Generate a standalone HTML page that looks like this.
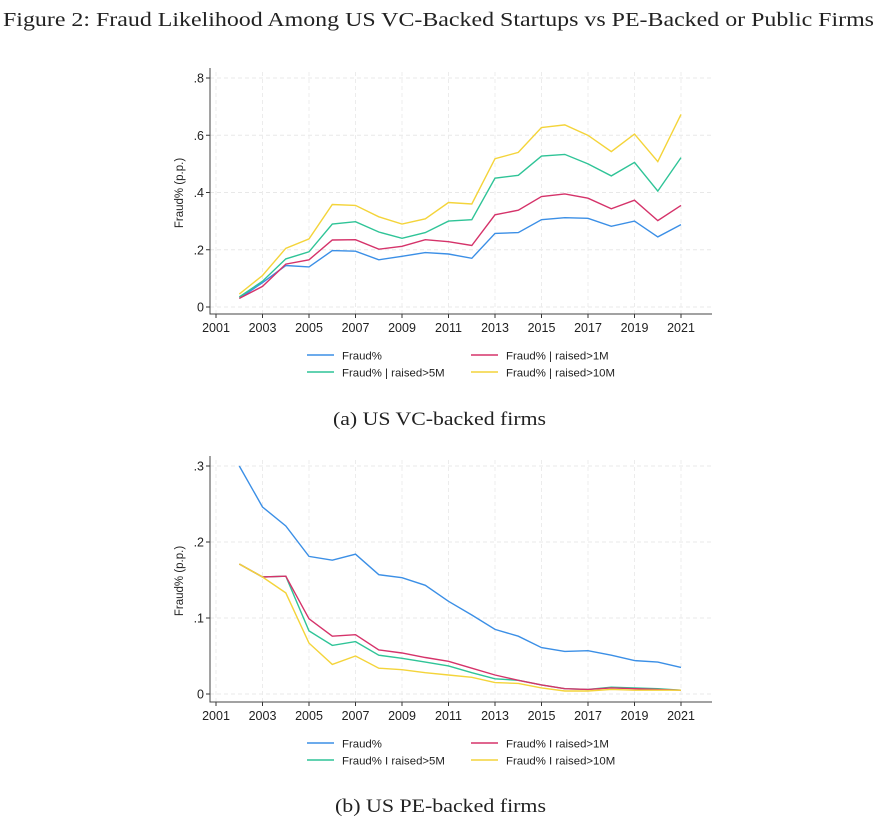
<!DOCTYPE html>
<html><head><meta charset="utf-8">
<style>
body{margin:0;background:#fff;width:893px;height:823px;overflow:hidden}
svg text{font-family:"Liberation Sans",sans-serif}
</style></head>
<body>
<svg id="s" width="893" height="823" xmlns="http://www.w3.org/2000/svg">
<text x="3" y="26" font-size="20" fill="#222" textLength="871" lengthAdjust="spacingAndGlyphs" style="font-family:'Liberation Serif',serif">Figure 2: Fraud Likelihood Among US VC-Backed Startups vs PE-Backed or Public Firms</text>
<text x="333" y="425" font-size="19" fill="#222" textLength="213" lengthAdjust="spacingAndGlyphs" style="font-family:'Liberation Serif',serif">(a) US VC-backed firms</text>
<text x="335" y="812" font-size="19" fill="#222" textLength="211" lengthAdjust="spacingAndGlyphs" style="font-family:'Liberation Serif',serif">(b) US PE-backed firms</text>
</svg>
<script>
const years=[2002,2003,2004,2005,2006,2007,2008,2009,2010,2011,2012,2013,2014,2015,2016,2017,2018,2019,2020,2021];
const xTicks=[2001,2003,2005,2007,2009,2011,2013,2015,2017,2019,2021];
const seriesNames=["Fraud%","Fraud% | raised>1M","Fraud% | raised>5M","Fraud% | raised>10M"];
const vcFraud=[.03,.085,.145,.14,.197,.195,.165,.177,.19,.185,.17,.257,.26,.305,.312,.31,.282,.3,.245,.288];
const vc1M=[.03,.072,.15,.165,.234,.235,.202,.212,.235,.228,.215,.322,.338,.386,.395,.38,.343,.373,.302,.355];
const vc5M=[.035,.09,.168,.193,.29,.298,.262,.24,.26,.3,.305,.45,.46,.527,.533,.5,.458,.505,.405,.522];
const vc10M=[.045,.11,.205,.238,.358,.355,.315,.29,.308,.365,.36,.518,.54,.627,.636,.6,.543,.604,.508,.673];
const vcTicks=[0,.2,.4,.6,.8];
const vcTickLabels=["0",".2",".4",".6",".8"];
const peFraud=[.3,.246,.221,.181,.176,.184,.157,.153,.143,.122,.104,.085,.076,.061,.056,.057,.051,.044,.042,.035];
const pe1M=[.171,.154,.155,.099,.076,.078,.058,.054,.048,.043,.034,.025,.018,.012,.007,.006,.008,.007,.006,.005];
const pe5M=[.171,.154,.155,.083,.064,.069,.051,.047,.042,.037,.028,.02,.018,.012,.007,.006,.009,.008,.007,.005];
const pe10M=[.171,.154,.133,.067,.039,.05,.034,.032,.028,.025,.022,.015,.014,.008,.004,.004,.006,.005,.005,.005];
const peTicks=[0,.1,.2,.3];
const peTickLabels=["0",".1",".2",".3"];
const colors=["#3b8fe6","#d5336a","#2fc497","#f4d43a"];
const NS="http://www.w3.org/2000/svg";
const svg=document.getElementById('s');
function mk(t,a,p){const e=document.createElementNS(NS,t);for(const k in a)e.setAttribute(k,a[k]);(p||svg).appendChild(e);return e;}
function chart(cfg){
  const g=mk('g',{});
  
  
  const x=v=>216+(v-2001)*23.25;
  const y=v=>cfg.y0-(v/cfg.unit)*cfg.pxPerUnit;
  const left=210,right=712;
  cfg.ticks.forEach((t,i)=>{
    const gl=mk('line',{x1:left,x2:right,y1:y(t),y2:y(t),stroke:'#e8e8e8','stroke-dasharray':'4,3','stroke-width':1},g);
    
    
    mk('line',{x1:left-4,x2:left,y1:y(t),y2:y(t),stroke:'#333'},g);
    const tl=mk('text',{x:left-6,y:y(t)+4.5,'text-anchor':'end','font-size':12.5,fill:'#222'},g);
    tl.textContent=cfg.tickLabels[i];
    
    
  });
  xTicks.forEach(t=>{
    const gl=mk('line',{x1:x(t),x2:x(t),y1:cfg.top,y2:cfg.axisY,stroke:'#ececec','stroke-dasharray':'4,3'},g);
    
    
    mk('line',{x1:x(t),x2:x(t),y1:cfg.axisY,y2:cfg.axisY+4,stroke:'#333'},g);
    const tl=mk('text',{x:x(t),y:cfg.axisY+18,'text-anchor':'middle','font-size':12.5,fill:'#222'},g);
    tl.textContent=t;
    
    
  });
  const ax=mk('path',{d:`M${left},${cfg.top-4}V${cfg.axisY}H${right}`,fill:'none',stroke:'#444','stroke-width':1},g);
  
  
  const yt=mk('text',{transform:`translate(183,${(cfg.top+cfg.axisY)/2}) rotate(-90)`,'text-anchor':'middle','font-size':11.5,fill:'#222'},g);
  yt.textContent='Fraud% (p.p.)';
  
  
  const order=[0,2,1,3];
  order.forEach(i=>{
    const d=cfg.series[i].map((v,j)=>(j?'L':'M')+x(years[j]).toFixed(1)+','+y(v).toFixed(1)).join('');
    const p=mk('path',{d:d,fill:'none',stroke:colors[i],'stroke-width':1.4},g);
    
    
  });
  const pos=[[307,cfg.legY],[471,cfg.legY],[307,cfg.legY+17],[471,cfg.legY+17]];
  [0,1,2,3].forEach((i,k)=>{
    const [lx,ly]=pos[k];
    const le=mk('g',{},g);
    
    
    mk('line',{x1:lx,x2:lx+27,y1:ly,y2:ly,stroke:colors[i],'stroke-width':1.4},le);
    const t=mk('text',{x:lx+35,y:ly+4.5,'font-size':11.4,fill:'#222'},le);
    t.textContent=cfg.legendNames[i];
  });
}
chart({name:'vc-chart',series:[vcFraud,vc1M,vc5M,vc10M],ticks:vcTicks,tickLabels:vcTickLabels,y0:307,unit:.2,pxPerUnit:57.25,top:72,axisY:314,legY:355,legendNames:seriesNames});
chart({name:'pe-chart',series:[peFraud,pe1M,pe5M,pe10M],ticks:peTicks,tickLabels:peTickLabels,y0:694,unit:.1,pxPerUnit:76,top:460,axisY:702,legY:743,legendNames:["Fraud%","Fraud% I raised>1M","Fraud% I raised>5M","Fraud% I raised>10M"]});
</script>
</body></html>
